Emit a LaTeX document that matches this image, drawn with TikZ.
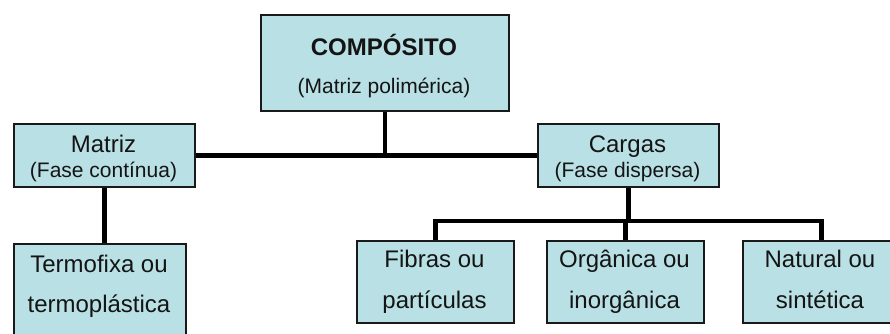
\documentclass[tikz,border=0pt]{standalone}
\usepackage{fontspec}
\setmainfont{Liberation Sans}
\usetikzlibrary{backgrounds}
\definecolor{boxfill}{RGB}{185,224,228}
\definecolor{boxline}{RGB}{25,25,25}
\definecolor{txtcol}{RGB}{20,20,20}
\begin{document}
\begin{tikzpicture}[x=1pt,y=-1pt,
  box/.style={draw=boxline, line width=1.8pt, fill=boxfill, inner sep=0pt, anchor=north west},
  conn/.style={draw=black, line width=4.5pt},
  big/.style={anchor=base, inner sep=0pt, font=\fontsize{24}{28}\selectfont, text=txtcol},
  bigb/.style={anchor=base, inner sep=0pt, font=\fontsize{24}{28}\selectfont\bfseries, text=txtcol},
  small/.style={anchor=base, inner sep=0pt, font=\fontsize{21}{25}\selectfont, text=txtcol}]
\useasboundingbox (0,0) rectangle (890,333);

\node[box, minimum width=248pt, minimum height=96pt] (comp) at (260,14) {};
\node[box, minimum width=181pt, minimum height=63pt] (matriz) at (13,123) {};
\node[box, minimum width=181pt, minimum height=63pt] (cargas) at (537,123) {};
\node[box, minimum width=172pt, minimum height=100pt] (termo) at (13,243) {};
\node[box, minimum width=157pt, minimum height=82pt] (fibras) at (356,240) {};
\node[box, minimum width=157pt, minimum height=82pt] (organica) at (546,240) {};
\node[box, minimum width=157pt, minimum height=82pt] (natural) at (742,240) {};

\node[bigb] (t1) at (384,55) {COMPÓSITO};
\node[small] (t2) at (384,93) {(Matriz polimérica)};
\node[big] (t3) at (103.5,152) {Matriz};
\node[small] (t4) at (103.5,177) {(Fase contínua)};
\node[big] (t5) at (627.5,152) {Cargas};
\node[small] (t6) at (627.5,177) {(Fase dispersa)};
\node[big] (t7) at (99,272) {Termofixa ou};
\node[big] (t8) at (99,312) {termoplástica};
\node[big] (t9) at (434.5,267) {Fibras ou};
\node[big] (t10) at (434.5,308) {partículas};
\node[big] (t11) at (624.5,267) {Orgânica ou};
\node[big] (t12) at (624.5,308) {inorgânica};
\node[big] (t13) at (820,267) {Natural ou};
\node[big] (t14) at (820,308) {sintética};

\begin{scope}[on background layer]
\fill[white] (0,0) rectangle (890,333);
\draw[conn] (matriz.east) -- (cargas.west);
\draw[conn] (comp.south) -- (comp.south |- matriz.east);
\draw[conn] (matriz.south) -- (matriz.south |- termo.north);
\coordinate (bar) at (628,221);
\draw[conn] (cargas.south) -- (cargas.south |- bar);
\draw[conn] (fibras.north) |- (bar) -| (natural.north);
\draw[conn] (organica.north) -- (organica.north |- bar);
\end{scope}
\end{tikzpicture}
\end{document}
